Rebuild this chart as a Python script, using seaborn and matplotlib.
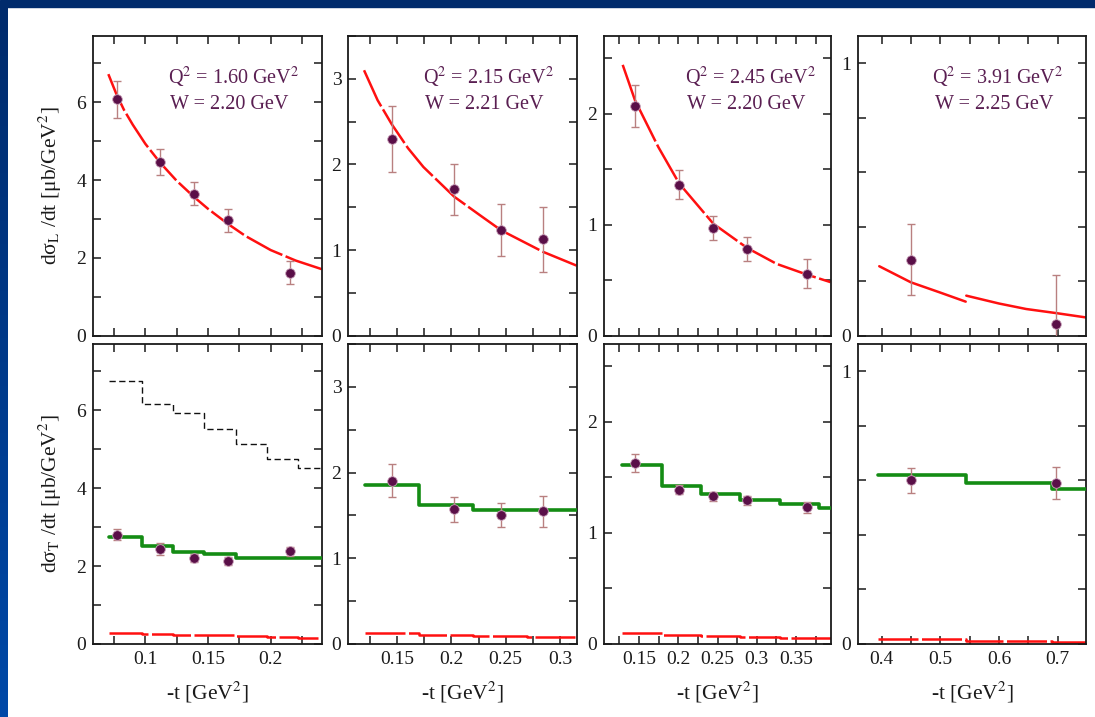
import numpy as np
import matplotlib
matplotlib.use("Agg")
import matplotlib.pyplot as plt
import seaborn as sns
from matplotlib.patches import Rectangle
from matplotlib.ticker import MultipleLocator
from matplotlib.colors import LinearSegmentedColormap

# ---------------- data ----------------
q2_labels = ["1.60", "2.15", "2.45", "3.91"]
w_labels = ["2.20", "2.21", "2.20", "2.25"]

# panel 1 : Q2 = 1.60
t_p1 = [0.0774, 0.1117, 0.139, 0.166, 0.2154]
sigL_p1 = [6.07, 4.46, 3.65, 2.96, 1.62]
sigL_err_p1 = [0.47, 0.34, 0.30, 0.30, 0.30]
sigT_p1 = [2.81, 2.44, 2.20, 2.14, 2.38]
sigT_err_p1 = [0.15, 0.15, 0.10, 0.10, 0.12]
curve_t_p1 = [0.0705, 0.077, 0.083, 0.09, 0.10, 0.1117, 0.125, 0.139, 0.15, 0.166, 0.18, 0.20, 0.22, 0.2407]
curve_L_p1 = [6.72, 6.20, 5.80, 5.42, 4.93, 4.45, 3.98, 3.56, 3.26, 2.87, 2.56, 2.20, 1.93, 1.71]
bins_p1 = [0.071, 0.097, 0.122, 0.147, 0.172, 0.197, 0.222]
modT_p1 = [2.75, 2.52, 2.37, 2.31, 2.22, 2.22, 2.22]
modT0_p1 = [6.74, 6.17, 5.93, 5.53, 5.14, 4.76, 4.52]
modLb_p1 = [0.29, 0.26, 0.24, 0.22, 0.20, 0.18, 0.165]

# panel 2 : Q2 = 2.15
t_p2 = [0.145, 0.2025, 0.2457, 0.2843]
sigL_p2 = [2.30, 1.71, 1.235, 1.126]
sigL_err_p2 = [0.385, 0.30, 0.30, 0.38]
sigT_p2 = [1.907, 1.57, 1.51, 1.55]
sigT_err_p2 = [0.19, 0.15, 0.14, 0.18]
curve_t_p2 = [0.1195, 0.132, 0.145, 0.16, 0.1742, 0.2025, 0.2265, 0.2459, 0.2843, 0.3154]
curve_L_p2 = [3.10, 2.75, 2.47, 2.19, 1.97, 1.624, 1.405, 1.23, 0.98, 0.818]
bins_p2 = [0.1204, 0.1702, 0.2198, 0.27]
modT_p2 = [1.86, 1.62, 1.566, 1.56]
modLb_p2 = [0.124, 0.105, 0.092, 0.076]

# panel 3 : Q2 = 2.45
t_p3 = [0.145, 0.2013, 0.2446, 0.2878, 0.364]
sigL_p3 = [2.07, 1.36, 0.97, 0.78, 0.557]
sigL_err_p3 = [0.19, 0.13, 0.11, 0.11, 0.13]
sigT_p3 = [1.63, 1.39, 1.33, 1.295, 1.23]
sigT_err_p3 = [0.08, 0.04, 0.04, 0.04, 0.05]
curve_t_p3 = [0.1293, 0.145, 0.1746, 0.2013, 0.2446, 0.2878, 0.3252, 0.364, 0.394]
curve_L_p3 = [2.44, 2.12, 1.70, 1.37, 1.009, 0.79, 0.647, 0.55, 0.482]
bins_p3 = [0.129, 0.179, 0.229, 0.279, 0.329, 0.379]
modT_p3 = [1.61, 1.42, 1.35, 1.30, 1.26, 1.22]
modLb_p3 = [0.096, 0.085, 0.072, 0.064, 0.056, 0.05]

# panel 4 : Q2 = 3.91
t_p4 = [0.4495, 0.697]
sigL_p4 = [0.279, 0.043]
sigL_err_p4 = [0.13, 0.178]
sigT_p4 = [0.60, 0.59]
sigT_err_p4 = [0.045, 0.06]
curve_t_p4a = [0.3957, 0.4495, 0.4987, 0.543]
curve_L_p4a = [0.255, 0.196, 0.159, 0.125]
curve_t_p4b = [0.544, 0.60, 0.646, 0.697, 0.748]
curve_L_p4b = [0.147, 0.118, 0.098, 0.083, 0.067]
bins_p4 = [0.394, 0.544, 0.69]
modT_p4 = [0.618, 0.592, 0.57]
modLb_p4 = [0.017, 0.011, 0.009]

# axis ranges / ticks
xlims = [(0.0585, 0.2407), (0.105, 0.3154), (0.1055, 0.394), (0.36, 0.748)]
ylims = [7.7, 3.5, 2.7, 1.1]
x_major = [0.05, 0.05, 0.05, 0.1]
x_minor = [0.025, 0.025, 0.025, 0.05]
y_major = [2, 1, 1, 1]
y_minor = [1, 0.5, 0.5, 0.2]

panels = [
    dict(t=t_p1, L=sigL_p1, Le=sigL_err_p1, T=sigT_p1, Te=sigT_err_p1,
         curves=[(curve_t_p1, curve_L_p1)], bins=bins_p1, modT=modT_p1,
         modT0=modT0_p1, modLb=modLb_p1),
    dict(t=t_p2, L=sigL_p2, Le=sigL_err_p2, T=sigT_p2, Te=sigT_err_p2,
         curves=[(curve_t_p2, curve_L_p2)], bins=bins_p2, modT=modT_p2,
         modT0=None, modLb=modLb_p2),
    dict(t=t_p3, L=sigL_p3, Le=sigL_err_p3, T=sigT_p3, Te=sigT_err_p3,
         curves=[(curve_t_p3, curve_L_p3)], bins=bins_p3, modT=modT_p3,
         modT0=None, modLb=modLb_p3),
    dict(t=t_p4, L=sigL_p4, Le=sigL_err_p4, T=sigT_p4, Te=sigT_err_p4,
         curves=[(curve_t_p4a, curve_L_p4a), (curve_t_p4b, curve_L_p4b)],
         bins=bins_p4, modT=modT_p4, modT0=None, modLb=modLb_p4),
]

# ---------------- style ----------------
sns.set_style("ticks")
plt.rcParams["font.family"] = ["Liberation Serif", "DejaVu Serif"]
plt.rcParams["mathtext.fontset"] = "stix"

RED = "#ff1010"
GREEN = "#148c14"
PT_COLOR = "#5a0f48"
ERR_COLOR = "#b98080"
TXT_COLOR = "#5a1f52"

W, H = 1095, 717
fig = plt.figure(figsize=(W / 100, H / 100), dpi=100)
fig.patch.set_facecolor("white")

# slide decoration: top band and left gradient strip
fig.patches.append(Rectangle((0, 1 - 7 / H), 1, 7 / H, transform=fig.transFigure,
                             color="#002b6c", zorder=0))
ax_bg = fig.add_axes([0, 0, 8 / W, 1 - 7 / H])
ax_bg.imshow(np.linspace(0, 1, 256)[:, None], aspect="auto",
             cmap=LinearSegmentedColormap.from_list("slide", ["#002b6c", "#0049a8"]))
ax_bg.axis("off")

lefts = [93.3, 348.3, 604.0, 858.3]
widths = [228.4, 228.4, 226.7, 227.7]
row_top = [(36.0, 335.7), (344.0, 644.0)]


def step_xy(bins, levels, xend):
    xs = list(bins) + [xend]
    ys = list(levels) + [levels[-1]]
    return xs, ys


def style_axes(ax, i, bottom):
    ax.set_ylim(0, ylims[i])
    ax.xaxis.set_major_locator(MultipleLocator(x_major[i]))
    ax.xaxis.set_minor_locator(MultipleLocator(x_minor[i]))
    ax.yaxis.set_major_locator(MultipleLocator(y_major[i]))
    ax.yaxis.set_minor_locator(MultipleLocator(y_minor[i]))
    ax.tick_params(which="both", direction="in", length=6, width=1.1,
                   top=True, right=True, colors="#1a1a1a", labelsize=14, pad=5)
    ax.tick_params(axis="x", labelbottom=bottom)
    for sp in ax.spines.values():
        sp.set_linewidth(1.3)
        sp.set_color("#1a1a1a")
    ax.set_xlabel("")
    ax.set_ylabel("")
    if i == 3:
        ax.set_yticks([0, 1])
        ax.yaxis.set_minor_locator(MultipleLocator(0.2))
        ax.set_xticks([0.4, 0.5, 0.6, 0.7])
        ax.set_xticklabels(["0.4", "0.5", "0.6", "0.7"])
    else:
        ticks = [v for v in np.arange(0.05, 0.45, 0.05) if xlims[i][0] <= v <= xlims[i][1]]
        ax.set_xticks(ticks)
        ax.set_xticklabels([("%.2f" % v).rstrip("0") for v in ticks])
    ax.set_xlim(*xlims[i])


for i, p in enumerate(panels):
    for r, (top, bot) in enumerate(row_top):
        ax = fig.add_axes([lefts[i] / W, 1 - bot / H, widths[i] / W, (bot - top) / H])
        xend = xlims[i][1]
        if r == 0:
            for ct, cl in p["curves"]:
                sns.lineplot(x=ct, y=cl, ax=ax, color=RED, lw=1.8,
                             linestyle=(0, (16, 1.4)) if i < 3 else "-", zorder=2)
            ax.errorbar(p["t"], p["L"], yerr=p["Le"], fmt="none", ecolor=ERR_COLOR,
                        elinewidth=1.0, capsize=3, capthick=1.0, zorder=4)
            sns.scatterplot(x=p["t"], y=p["L"], ax=ax, color=PT_COLOR, s=48,
                            edgecolor="#c9a0b8", linewidth=0.6, zorder=5)
            ax.text(0.325 if i != 2 else 0.357, 0.863, r"Q$^2$ = %s GeV$^2$" % q2_labels[i],
                    transform=ax.transAxes, ha="left", va="center", fontsize=14.5,
                    color=TXT_COLOR)
            ax.text(0.338 if i != 2 else 0.365, 0.77, "W = %s GeV" % w_labels[i],
                    transform=ax.transAxes, ha="left", va="center", fontsize=14.5,
                    color=TXT_COLOR)
        else:
            if p["modT0"] is not None:
                xs, ys = step_xy(p["bins"], p["modT0"], xend)
                sns.lineplot(x=xs, y=ys, ax=ax, color="#111111", lw=1.0,
                             drawstyle="steps-post", linestyle=(0, (4.5, 2.5)), zorder=2)
            xs, ys = step_xy(p["bins"], p["modT"], xend)
            sns.lineplot(x=xs, y=ys, ax=ax, color=GREEN, lw=2.6,
                         drawstyle="steps-post", zorder=3)
            xs, ys = step_xy(p["bins"], p["modLb"], xend)
            sns.lineplot(x=xs, y=ys, ax=ax, color=RED, lw=1.8,
                         drawstyle="steps-post", linestyle=(0, (16, 1.4)), zorder=2)
            ax.errorbar(p["t"], p["T"], yerr=p["Te"], fmt="none", ecolor=ERR_COLOR,
                        elinewidth=1.0, capsize=3, capthick=1.0, zorder=4)
            sns.scatterplot(x=p["t"], y=p["T"], ax=ax, color=PT_COLOR, s=48,
                            edgecolor="#c9a0b8", linewidth=0.6, zorder=5)
        style_axes(ax, i, bottom=(r == 1))
        if r == 1:
            ax.set_xlabel("-t [GeV$^2$]", fontsize=15.5, color="#1a1a1a")
            ax.xaxis.set_label_coords(0.5, -0.12)
        if i == 0:
            lab = "L" if r == 0 else "T"
            ax.set_ylabel("dσ$_{\\rm %s}$ /dt [μb/GeV$^2$]" % lab, fontsize=15.5,
                          color="#1a1a1a")
            ax.yaxis.set_label_coords(-0.13, 0.5)

fig.savefig("out.png", dpi=100, facecolor="white")
